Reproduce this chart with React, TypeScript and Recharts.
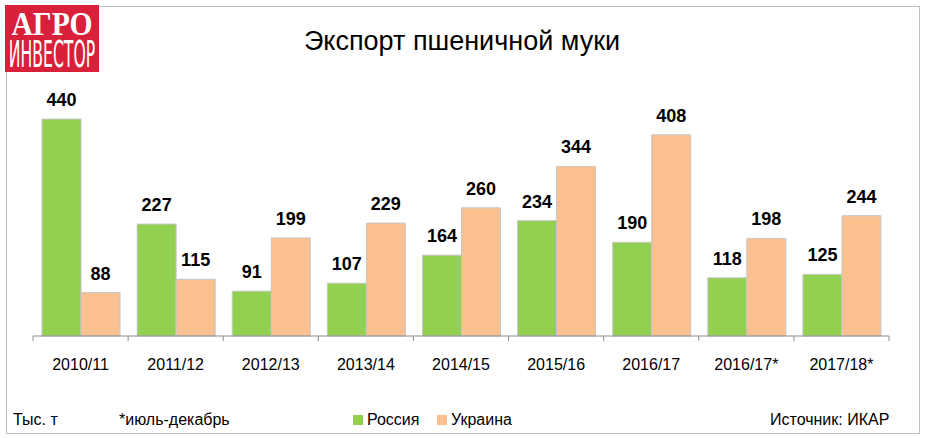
import React from 'react';
import { BarChart, Bar, XAxis, YAxis, LabelList } from 'recharts';

const seasons = ['2010/11', '2011/12', '2012/13', '2013/14', '2014/15', '2015/16', '2016/17', '2016/17*', '2017/18*'];
const russia = [440, 227, 91, 107, 164, 234, 190, 118, 125];
const ukraine = [88, 115, 199, 229, 260, 344, 408, 198, 244];

const series = [
  { key: 'russia', name: 'Россия', color: '#92d050' },
  { key: 'ukraine', name: 'Украина', color: '#fac090' },
];

const data = seasons.map((season, i) => ({ season, russia: russia[i], ukraine: ukraine[i] }));

const W = 925;
const H = 438;
const M = { top: 89.5, right: 36, bottom: 72, left: 33 };
const BAND = (W - M.left - M.right) / seasons.length;
const FONT = '"Liberation Sans", Arial, sans-serif';

function SeasonTick(props: any) {
  const { x, y, payload, index } = props;
  const last = index === seasons.length - 1;
  return (
    <g>
      <line x1={x - BAND / 2} x2={x - BAND / 2} y1={y} y2={y + 5} stroke="#8c8c8c" />
      {last && <line x1={x + BAND / 2} x2={x + BAND / 2} y1={y} y2={y + 5} stroke="#8c8c8c" />}
      <text x={x} y={y + 34} textAnchor="middle" fontSize={16} fontFamily={FONT} fill="#000">
        {payload.value}
      </text>
    </g>
  );
}

const footText: React.CSSProperties = { position: 'absolute', top: 411, fontSize: 16, lineHeight: '18px', color: '#000', whiteSpace: 'nowrap' };

export default function App() {
  return (
    <div style={{ position: 'absolute', left: 0, top: 0, width: W, height: H, background: '#fff', fontFamily: FONT }}>
      <div style={{ position: 'absolute', left: 6, top: 6, width: 912, height: 426, border: '1px solid #bfbfbf' }} />

      <div style={{ position: 'absolute', left: 5, top: 5, width: 94, height: 67, background: '#d9203a' }}>
        <div style={{ position: 'absolute', left: 0, top: 5, width: 94, textAlign: 'center', color: '#fff', fontFamily: '"Liberation Serif", serif', fontWeight: 'bold', fontSize: 34, lineHeight: '28px', transform: 'scaleX(0.87)' }}>
          АГРО
        </div>
        <div style={{ position: 'absolute', left: -53, top: 34.5, width: 200, textAlign: 'center', color: '#fff', fontFamily: '"DejaVu Sans Condensed", sans-serif', fontSize: 37, lineHeight: '30px', transform: 'scaleX(0.47)' }}>
          ИНВЕСТОР
        </div>
      </div>

      <div style={{ position: 'absolute', left: 0, top: 26, width: 924, textAlign: 'center', fontSize: 27, lineHeight: '30px', color: '#000' }}>
        Экспорт пшеничной муки
      </div>

      <BarChart
        width={W}
        height={H}
        data={data}
        margin={M}
        barCategoryGap="9.5%"
        barGap={0}
        style={{ position: 'absolute', left: 0, top: 0 }}
      >
        <XAxis
          dataKey="season"
          height={30}
          tickSize={0}
          tickMargin={0}
          tick={<SeasonTick />}
          axisLine={{ stroke: '#8c8c8c' }}
          tickLine={false}
          interval={0}
        />
        <YAxis hide domain={[0, 500]} />
        {series.map((s) => (
          <Bar key={s.key} dataKey={s.key} name={s.name} fill={s.color} stroke="#c6c6c6" strokeWidth={1} isAnimationActive={false}>
            <LabelList dataKey={s.key} position="top" offset={13} fontSize={18} fontWeight="bold" fontFamily={FONT} fill="#000" />
          </Bar>
        ))}
      </BarChart>

      <div style={{ ...footText, left: 13 }}>Тыс. т</div>
      <div style={{ ...footText, left: 119 }}>*июль-декабрь</div>
      {series.map((s, i) => (
        <div key={s.key} style={{ ...footText, left: i === 0 ? 353 : 437, display: 'flex', alignItems: 'center' }}>
          <span style={{ display: 'inline-block', width: 10, height: 10, background: s.color, marginRight: 4 }} />
          {s.name}
        </div>
      ))}
      <div style={{ ...footText, left: 770 }}>Источник: ИКАР</div>
    </div>
  );
}
